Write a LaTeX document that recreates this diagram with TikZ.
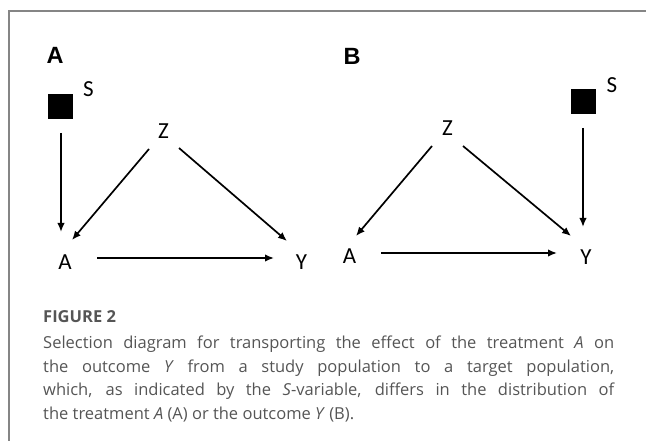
\documentclass[tikz,border=0pt]{standalone}
\usepackage{fontspec}
\usetikzlibrary{calc,arrows.meta}
\newfontfamily\nodefont{Carlito}
\newfontfamily\panelfont{Liberation Sans}
\newfontfamily\capfont{Open Sans}
\definecolor{capgray}{HTML}{555555}
\definecolor{framegray}{HTML}{858585}
\tikzset{
  var/.style={inner sep=0pt, font=\nodefont\fontsize{23}{23}\selectfont},
  panel/.style={inner sep=0pt, font=\panelfont\bfseries\fontsize{23.5}{23.5}\selectfont},
  sbox/.style={fill=black, draw=none, minimum width=25pt, minimum height=25pt, inner sep=0pt},
  arr/.style={line width=1.7pt, -{Latex[length=9pt,width=7.5pt]}},
  capline/.style={anchor=base west, inner sep=0pt, text=capgray, font=\capfont\fontsize{16.5}{20}\selectfont},
}
\begin{document}
\begin{tikzpicture}[x=1pt,y=-1pt]
\useasboundingbox (0,0) rectangle (646,441);
% frame
\draw[framegray, line width=1.2pt] (9,441) -- (9,11) -- (646,11);
% panel A
\node[panel] (labA) at (55,55.5) {A};
\node[sbox] (SqA) at (60.5,106.5) {};
\node[var] (SA) at (88.5,89) {S};
\node[var] (ZA) at (163.5,131) {Z};
\node[var] (AA) at (65,262) {A};
\node[var] (YA) at (301.5,262.5) {Y};
\draw[arr] ($(SqA)+(0.5,26.5)$) -- ($(AA)+(-4,-30)$);
\draw[arr] ($(ZA)+(-14.5,18)$) -- ($(AA)+(7,-22)$);
\draw[arr] ($(ZA)+(15.5,17)$) -- ($(YA)+(-14.5,-21.5)$);
\draw[arr] ($(AA)+(32,-4)$) -- ($(YA)+(-27.5,-4.5)$);
% panel B
\node[panel] (labB) at (352,56) {B};
\node[sbox] (SqB) at (583.5,102) {};
\node[var] (SB) at (612,85.5) {S};
\node[var] (ZB) at (447.5,128.5) {Z};
\node[var] (AB) at (349.5,256.5) {A};
\node[var] (YB) at (586,257.5) {Y};
\draw[arr] ($(SqB)+(-0.5,26)$) -- ($(YB)+(-3,-30.5)$);
\draw[arr] ($(ZB)+(-15.5,17.5)$) -- ($(AB)+(6.5,-20.5)$);
\draw[arr] ($(ZB)+(15.5,17.5)$) -- ($(YB)+(-15,-21.5)$);
\draw[arr] ($(AB)+(31.5,-3.5)$) -- ($(YB)+(-29,-4.5)$);
% caption
\node[capline] (fig) at (43,323) {\bfseries FIGURE 2};
\node[capline] (c1) at (43,348.5) {\makebox[571pt][s]{Selection diagram for transporting the effect of the treatment \textit{A} on}};
\node[capline] (c2) at (43,372) {\makebox[571pt][s]{the outcome \textit{Y} from a study population to a target population,}};
\node[capline] (c3) at (43,395.5) {\makebox[571pt][s]{which, as indicated by the \textit{S}-variable, differs in the distribution of}};
\node[capline] (c4) at (43,419) {the treatment \textit{A} (A) or the outcome \textit{Y} (B).};
\end{tikzpicture}
\end{document}
